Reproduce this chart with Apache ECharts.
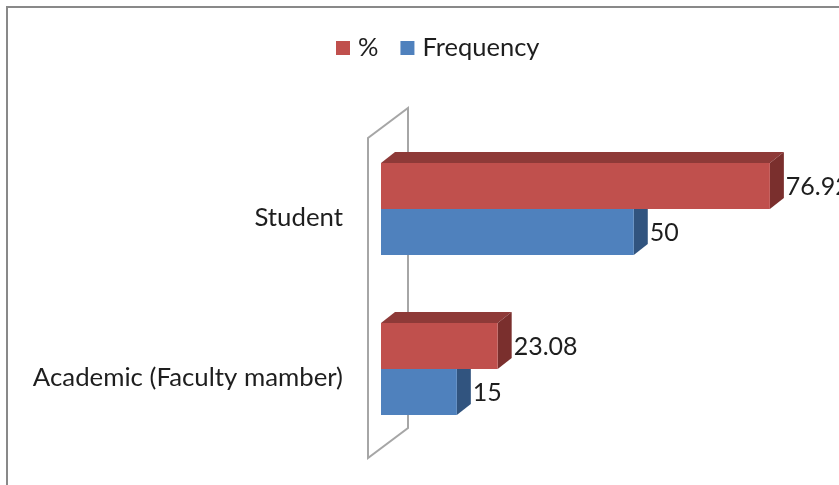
<!DOCTYPE html>
<html>
<head>
<meta charset="utf-8">
<style>
    html, body { margin: 0; padding: 0; background: #fff; }
    #chart { width: 839px; height: 485px; }
</style>
</head>
<body>
<div id="chart"></div>
<script src="https://cdn.jsdelivr.net/npm/echarts@6/dist/echarts.min.js"></script>
<script>
    var categories = ['Academic (Faculty mamber)', 'Student'];
    var percentValues = [23.08, 76.92];
    var frequencyValues = [15, 50];

    var FONT = 'Lato, "Open Sans", sans-serif';
    // 3d look: bars sit a bit behind the front plane of the wall
    var SHIFT_X = 13, SHIFT_Y = -9;
    var DX = 14, DY = 11;
    var BAR_H = 46;

    function makeRender(upper, front, top, side) {
        return function (params, api) {
            var cat = api.value(1);
            var val = api.value(0);
            var p0 = api.coord([0, cat]);
            var p1 = api.coord([val, cat]);
            var x0 = p0[0] + SHIFT_X;
            var x1 = p1[0] + SHIFT_X;
            var yc = p0[1] + SHIFT_Y;
            var y0 = upper ? yc - BAR_H : yc;
            var y1 = y0 + BAR_H;
            return {
                type: 'group',
                children: [
                    {
                        type: 'polygon',
                        shape: { points: [[x0, y0], [x0 + DX, y0 - DY], [x1 + DX, y0 - DY], [x1, y0]] },
                        style: { fill: top }
                    },
                    {
                        type: 'polygon',
                        shape: { points: [[x1, y0], [x1 + DX, y0 - DY], [x1 + DX, y1 - DY], [x1, y1]] },
                        style: { fill: side }
                    },
                    {
                        type: 'rect',
                        shape: { x: x0, y: y0, width: x1 - x0, height: y1 - y0 },
                        style: { fill: front }
                    },
                    {
                        type: 'text',
                        style: {
                            text: String(val),
                            x: x1 + DX + 2,
                            y: (y0 + y1) / 2 + 1,
                            fill: '#1e1e1e',
                            fontSize: 25,
                            fontFamily: FONT,
                            align: 'left',
                            verticalAlign: 'middle'
                        }
                    }
                ]
            };
        };
    }

    function renderWall(params, api) {
        var cs = params.coordSys;
        var L = cs.x, T = cs.y, B = cs.y + cs.height;
        return {
            type: 'polygon',
            shape: { points: [[L, B], [L, T], [L + 40, T - 30], [L + 40, B - 30]] },
            style: { fill: 'none', stroke: '#a6a6a6', lineWidth: 2 }
        };
    }

    var chart = echarts.init(document.getElementById('chart'));
    chart.setOption({
        animation: false,
        backgroundColor: '#fff',
        graphic: [{
            type: 'rect',
            shape: { x: 7, y: 7, width: 900, height: 600 },
            style: { fill: 'none', stroke: '#898989', lineWidth: 2 },
            z: -10
        }],
        legend: {
            data: ['%', 'Frequency'],
            left: 336,
            top: 35,
            padding: 0,
            icon: 'rect',
            itemWidth: 14,
            itemHeight: 14,
            itemGap: 22,
            textStyle: { fontSize: 25.5, fontFamily: FONT, color: '#1e1e1e', padding: [0, 0, 0, 3] }
        },
        grid: { left: 368, top: 138, width: 455, height: 320 },
        xAxis: { type: 'value', min: 0, max: 90, show: false },
        yAxis: {
            type: 'category',
            data: categories,
            axisLine: { show: false },
            axisTick: { show: false },
            splitLine: { show: false },
            axisLabel: { fontSize: 25.8, fontFamily: FONT, color: '#1e1e1e', margin: 25 }
        },
        series: [
            {
                name: 'wall',
                type: 'custom',
                renderItem: renderWall,
                data: [[0, 0]],
                silent: true,
                z: 1
            },
            {
                name: 'Frequency',
                type: 'custom',
                renderItem: makeRender(false, '#4f81bd', '#3a6190', '#31547f'),
                itemStyle: { color: '#4f81bd' },
                data: frequencyValues.map(function (v, i) { return [v, i]; }),
                encode: { x: 0, y: 1 },
                z: 2
            },
            {
                name: '%',
                type: 'custom',
                renderItem: makeRender(true, '#c0504d', '#8e3a38', '#7a2f2d'),
                itemStyle: { color: '#c0504d' },
                data: percentValues.map(function (v, i) { return [v, i]; }),
                encode: { x: 0, y: 1 },
                z: 3
            }
        ]
    });
</script>
</body>
</html>
